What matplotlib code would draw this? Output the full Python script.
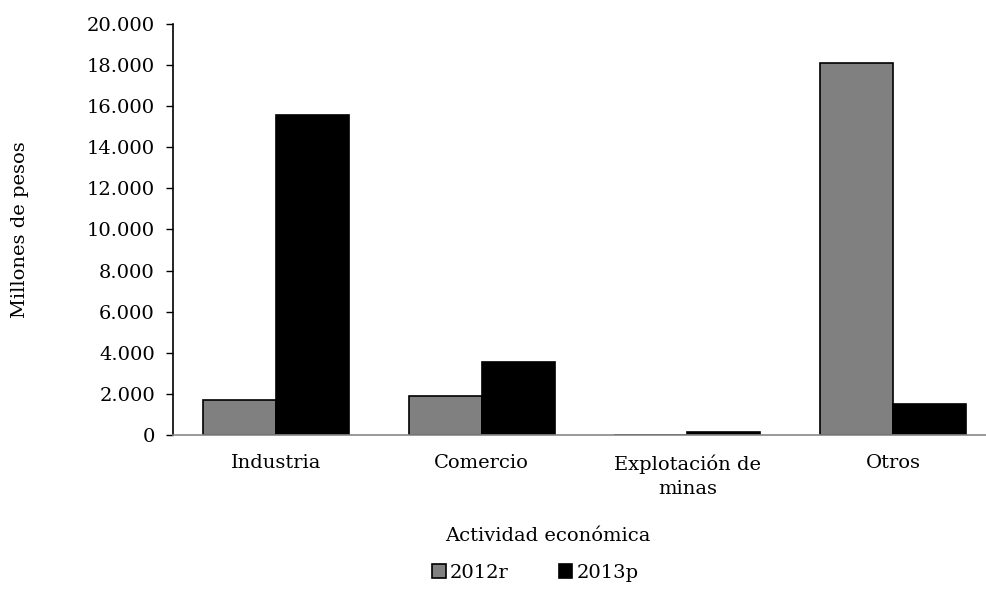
import matplotlib.pyplot as plt
import matplotlib.ticker as mticker
import numpy as np

categories = ['Industria', 'Comercio', 'Explotación de\nminas', 'Otros']
series_names = ['2012r', '2013p']
values_2012r = [1700, 1900, 10, 18100]
values_2013p = [15580, 3550, 140, 1500]
colors = ['#808080', '#000000']

plt.rcParams['font.family'] = ['DejaVu Serif']

fig = plt.figure(figsize=(9.86, 5.93), dpi=100)
ax = fig.add_axes([173 / 986, 1 - 435 / 593, 823 / 986, 411 / 593])

x = np.arange(len(categories))
width = 0.355
ax.bar(x - width / 2, values_2012r, width, color=colors[0],
       edgecolor='black', linewidth=1.2, label=series_names[0])
ax.bar(x + width / 2, values_2013p, width, color=colors[1],
       edgecolor='black', linewidth=1.2, label=series_names[1])

ax.set_xlim(-0.5, len(categories) - 0.5)
ax.set_ylim(0, 20000)
ax.yaxis.set_major_locator(mticker.MultipleLocator(2000))
ax.yaxis.set_major_formatter(
    mticker.FuncFormatter(lambda v, p: f'{int(v):,}'.replace(',', '.'))
)
ax.set_xticks(x)
ax.set_xticklabels(categories, fontsize=14, linespacing=1.4)
ax.tick_params(axis='x', length=0, pad=14)
ax.tick_params(axis='y', labelsize=14, length=5, width=1, direction='out',
               pad=8)

for side in ['top', 'right']:
    ax.spines[side].set_visible(False)
ax.spines['left'].set_linewidth(1.2)
ax.spines['bottom'].set_color('#888888')
ax.spines['bottom'].set_linewidth(1.2)

ax.set_xlabel('Actividad económica', fontsize=14)
ax.xaxis.set_label_coords(0.456, -0.225)
ax.set_ylabel('Millones de pesos', fontsize=14)
ax.yaxis.set_label_coords(-0.175, 0.5)

ax.legend(loc='center', bbox_to_anchor=(0.44, -0.336), ncol=2,
          frameon=False, fontsize=14, handlelength=0.7, handleheight=0.7,
          handletextpad=0.2, columnspacing=2.6)

fig.savefig('out.png', dpi=100)
